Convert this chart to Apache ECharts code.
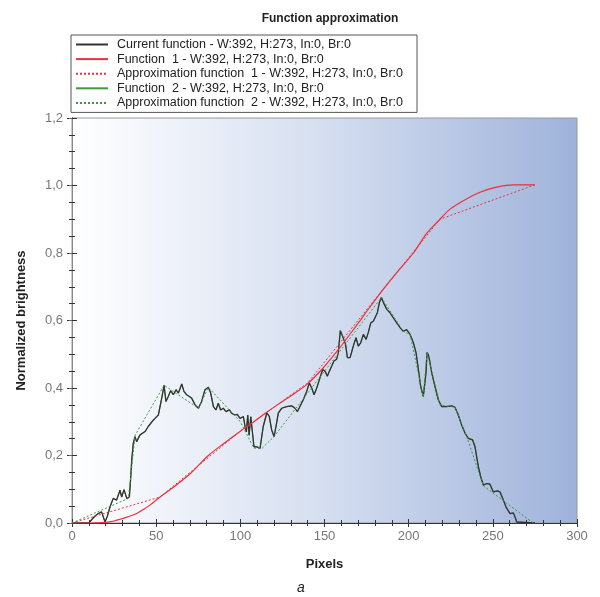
<!DOCTYPE html>
<html>
<head>
<meta charset="utf-8">
<script src="https://cdn.jsdelivr.net/npm/echarts@6/dist/echarts.min.js"></script>
<style>html,body{margin:0;padding:0;background:#fff}#c{width:600px;height:597px}</style>
</head>
<body>
<div id="c"></div>
<script>
// ---- data ----
const legendNames = [
  'Current function - W:392, H:273, In:0, Br:0',
  'Function  1 - W:392, H:273, In:0, Br:0',
  'Approximation function  1 - W:392, H:273, In:0, Br:0',
  'Function  2 - W:392, H:273, In:0, Br:0',
  'Approximation function  2 - W:392, H:273, In:0, Br:0'
];
const curX = [0,10,11,13.5,15.6,17.6,19.6,21,22.6,24.5,26.5,28.5,29.5,30.9,32.5,34.1,34.9,35.5,36.4,37.4,38.4,40.4,43.4,45.3,47.5,49.3,51.3,53.3,54.7,55.8,57.2,58.6,60.2,61.8,63.2,65.2,66.5,68.1,69.7,71.1,73.1,75.1,77,79,81,82.4,84,85.5,86.9,88.3,89.9,91.5,93.5,94.9,96.8,98.2,99.8,101.8,102.8,103.6,104.4,105.2,106.2,107.3,108.1,109.7,111.7,112.7,113.6,115.7,117.2,118.6,120,121.2,122.6,124.6,127.5,130.5,132.5,133.9,135.4,137.4,139.4,141,142.4,143.8,145.4,147.3,148.9,150.3,151.7,152.9,154.3,155.6,157.2,158.2,159.4,161,162.5,163.6,165.2,167.1,168.7,170.1,171.5,173.1,174.7,176,177.5,179,180,181.4,182.6,183.8,185,187,188.9,190.9,192.9,194.9,196.8,198.8,200.8,202.8,204.4,205.8,207.1,208.7,209.7,210.3,210.9,211.7,212.5,213.7,215.6,217.6,219.6,222.6,225.6,227.5,229.5,231.5,233.5,235.4,238,239.4,240.4,241.4,242.8,244.4,246.4,248.3,250.3,252.7,254.3,255.8,257.8,260.2,262.2,263.2,264.2,264.5,275];
const curY = [0,0,0.003,0.02,0.028,0.033,0.003,0.02,0.048,0.073,0.068,0.097,0.077,0.099,0.073,0.077,0.137,0.187,0.236,0.256,0.241,0.261,0.271,0.286,0.3,0.31,0.32,0.37,0.408,0.36,0.375,0.392,0.38,0.395,0.385,0.412,0.39,0.38,0.375,0.37,0.35,0.34,0.36,0.395,0.402,0.385,0.345,0.335,0.355,0.335,0.34,0.33,0.335,0.325,0.32,0.322,0.31,0.315,0.286,0.27,0.32,0.26,0.315,0.318,0.226,0.226,0.221,0.226,0.286,0.326,0.316,0.276,0.256,0.286,0.326,0.34,0.345,0.347,0.34,0.33,0.345,0.365,0.39,0.415,0.4,0.38,0.4,0.43,0.455,0.45,0.435,0.45,0.465,0.48,0.485,0.505,0.57,0.55,0.53,0.49,0.49,0.524,0.549,0.524,0.534,0.559,0.544,0.564,0.593,0.598,0.593,0.623,0.653,0.668,0.653,0.633,0.623,0.608,0.593,0.579,0.568,0.573,0.559,0.534,0.504,0.454,0.405,0.375,0.38,0.445,0.505,0.499,0.48,0.445,0.405,0.365,0.345,0.345,0.347,0.343,0.32,0.29,0.266,0.251,0.246,0.226,0.196,0.167,0.137,0.112,0.117,0.115,0.092,0.095,0.092,0.073,0.048,0.028,0.03,0.018,0.003,0,0];
const f1X = [0,10,20,25,28.5,33,38.4,42,46.3,52.3,60,70,81,90,100,108,115.7,122,129.5,139.4,149.3,159.2,165.2,170,177,185,192.9,202.8,210.7,218.6,224.6,232.5,242.4,252.3,262.2,275];
const f1Y = [0,0,0.002,0.006,0.011,0.018,0.028,0.039,0.053,0.077,0.105,0.145,0.2,0.235,0.272,0.3,0.328,0.35,0.375,0.41,0.46,0.52,0.56,0.592,0.64,0.693,0.742,0.8,0.858,0.9,0.93,0.955,0.98,0.995,1.002,1.002];
const a1X = [0,52.3,100,140,182,218.6,275];
const a1Y = [0,0.077,0.272,0.415,0.675,0.9,1.002];
const a2X = [0,33.5,37.5,54.7,75.1,81,100,108,113,120,183.8,196.8,200.8,208.7,210.9,218.6,227.5,234.5,244.4,274];
const a2Y = [0,0.073,0.26,0.408,0.34,0.402,0.3,0.222,0.222,0.256,0.668,0.568,0.559,0.375,0.505,0.35,0.343,0.256,0.11,0];

const pairs = (xs, ys) => xs.map((x, i) => [x, ys[i]]);
const FONT = 'Liberation Sans, Arial, sans-serif';

const chart = echarts.init(document.getElementById('c'), null, {renderer: 'canvas'});

const baseX = {
  type: 'value', min: 0, max: 300, interval: 50, position: 'bottom', gridIndex: 0,
  splitLine: {show: false},
  axisLine: {show: true, onZero: false, lineStyle: {color: '#333', width: 1}},
  minorTick: {show: true, splitNumber: 5, length: 3, lineStyle: {color: '#333'}},
};
const baseY = {
  type: 'value', min: 0, max: 1.2, interval: 0.2, position: 'left', gridIndex: 0,
  splitLine: {show: false},
  axisLine: {show: true, onZero: false, lineStyle: {color: '#333', width: 1}},
  minorTick: {show: true, splitNumber: 4, length: 3, lineStyle: {color: '#333'}},
};

const option = {
  animation: false,
  title: {
    text: 'Function approximation', left: 325, top: 8, textAlign: 'center',
    textStyle: {fontFamily: FONT, fontSize: 12, fontWeight: 'bold', color: '#222'}
  },
  legend: {
    data: legendNames, orient: 'vertical', left: 71, top: 35,
    backgroundColor: '#fff', borderColor: '#555', borderWidth: 1,
    padding: [3, 14, 3, 4], itemGap: 1.6, itemWidth: 32, itemHeight: 13,
    itemStyle: {opacity: 0},
    textStyle: {fontFamily: FONT, fontSize: 12.5, color: '#222', padding: [0, 0, 0, 4]},
    selectedMode: false
  },
  grid: {
    left: 72, right: 23, top: 118, bottom: 74, show: true,
    borderColor: '#999', borderWidth: 1,
    backgroundColor: new echarts.graphic.LinearGradient(0, 0, 1, 0, [
      {offset: 0, color: '#ffffff'}, {offset: 0.5, color: '#d5def0'}, {offset: 1, color: '#9eb2da'}
    ])
  },
  xAxis: [
    Object.assign({}, baseX, {
      axisTick: {show: true, inside: false, length: 4, lineStyle: {color: '#333'}},
      axisLabel: {show: true, color: '#777', fontFamily: FONT, fontSize: 13, margin: 7},
      name: 'Pixels', nameLocation: 'middle', nameGap: 35,
      nameTextStyle: {fontFamily: FONT, fontSize: 13, fontWeight: 'bold', color: '#222'}
    }),
    Object.assign({}, baseX, {
      axisTick: {show: true, inside: true, length: 4, lineStyle: {color: '#333'}},
      axisLabel: {show: false}
    })
  ],
  yAxis: [
    Object.assign({}, baseY, {
      axisTick: {show: true, inside: false, length: 5, lineStyle: {color: '#333'}},
      axisLabel: {show: true, color: '#777', fontFamily: FONT, fontSize: 13, margin: 9,
        formatter: v => v.toFixed(1).replace('.', ',')},
      name: 'Normalized brightness', nameLocation: 'middle', nameGap: 44, nameRotate: 90,
      nameTextStyle: {fontFamily: FONT, fontSize: 13, fontWeight: 'bold', color: '#222'}
    }),
    Object.assign({}, baseY, {
      axisTick: {show: true, inside: true, length: 5, lineStyle: {color: '#333'}},
      axisLabel: {show: false}
    }),
    {
      type: 'value', min: 0, max: 1.2, interval: 0.2, position: 'right', gridIndex: 0,
      splitLine: {show: false},
      axisLine: {show: true, lineStyle: {color: '#888'}},
      axisTick: {show: true, inside: true, length: 3, lineStyle: {color: '#666'}},
      axisLabel: {show: false}
    }
  ],
  series: [
    {name: legendNames[3], type: 'line', data: pairs(curX, curY), symbol: 'none', z: 2,
      lineStyle: {color: '#3c9a3c', width: 1}, itemStyle: {color: '#3c9a3c'}},
    {name: legendNames[0], type: 'line', data: pairs(curX, curY), symbol: 'none', z: 3,
      lineStyle: {color: '#333', width: 1.3}, itemStyle: {color: '#555'}},
    {name: legendNames[1], type: 'line', data: pairs(f1X, f1Y), symbol: 'none', smooth: 0.3, z: 4,
      lineStyle: {color: '#e8313c', width: 1.2}, itemStyle: {color: '#e8313c'}},
    {name: legendNames[2], type: 'line', data: pairs(a1X, a1Y), symbol: 'none', z: 5,
      lineStyle: {color: '#e8313c', width: 1, type: [2, 2]}, itemStyle: {color: '#e8313c'}},
    {name: legendNames[4], type: 'line', data: pairs(a2X, a2Y), symbol: 'none', z: 6,
      lineStyle: {color: '#3c9a3c', width: 1, type: [2, 2]}, itemStyle: {color: '#3c9a3c'}}
  ],
  graphic: [
    {type: 'text', left: 297, top: 581,
      style: {text: 'a', font: 'italic 14px ' + FONT, fill: '#222'}}
  ]
};
chart.setOption(option);
</script>
</body>
</html>
